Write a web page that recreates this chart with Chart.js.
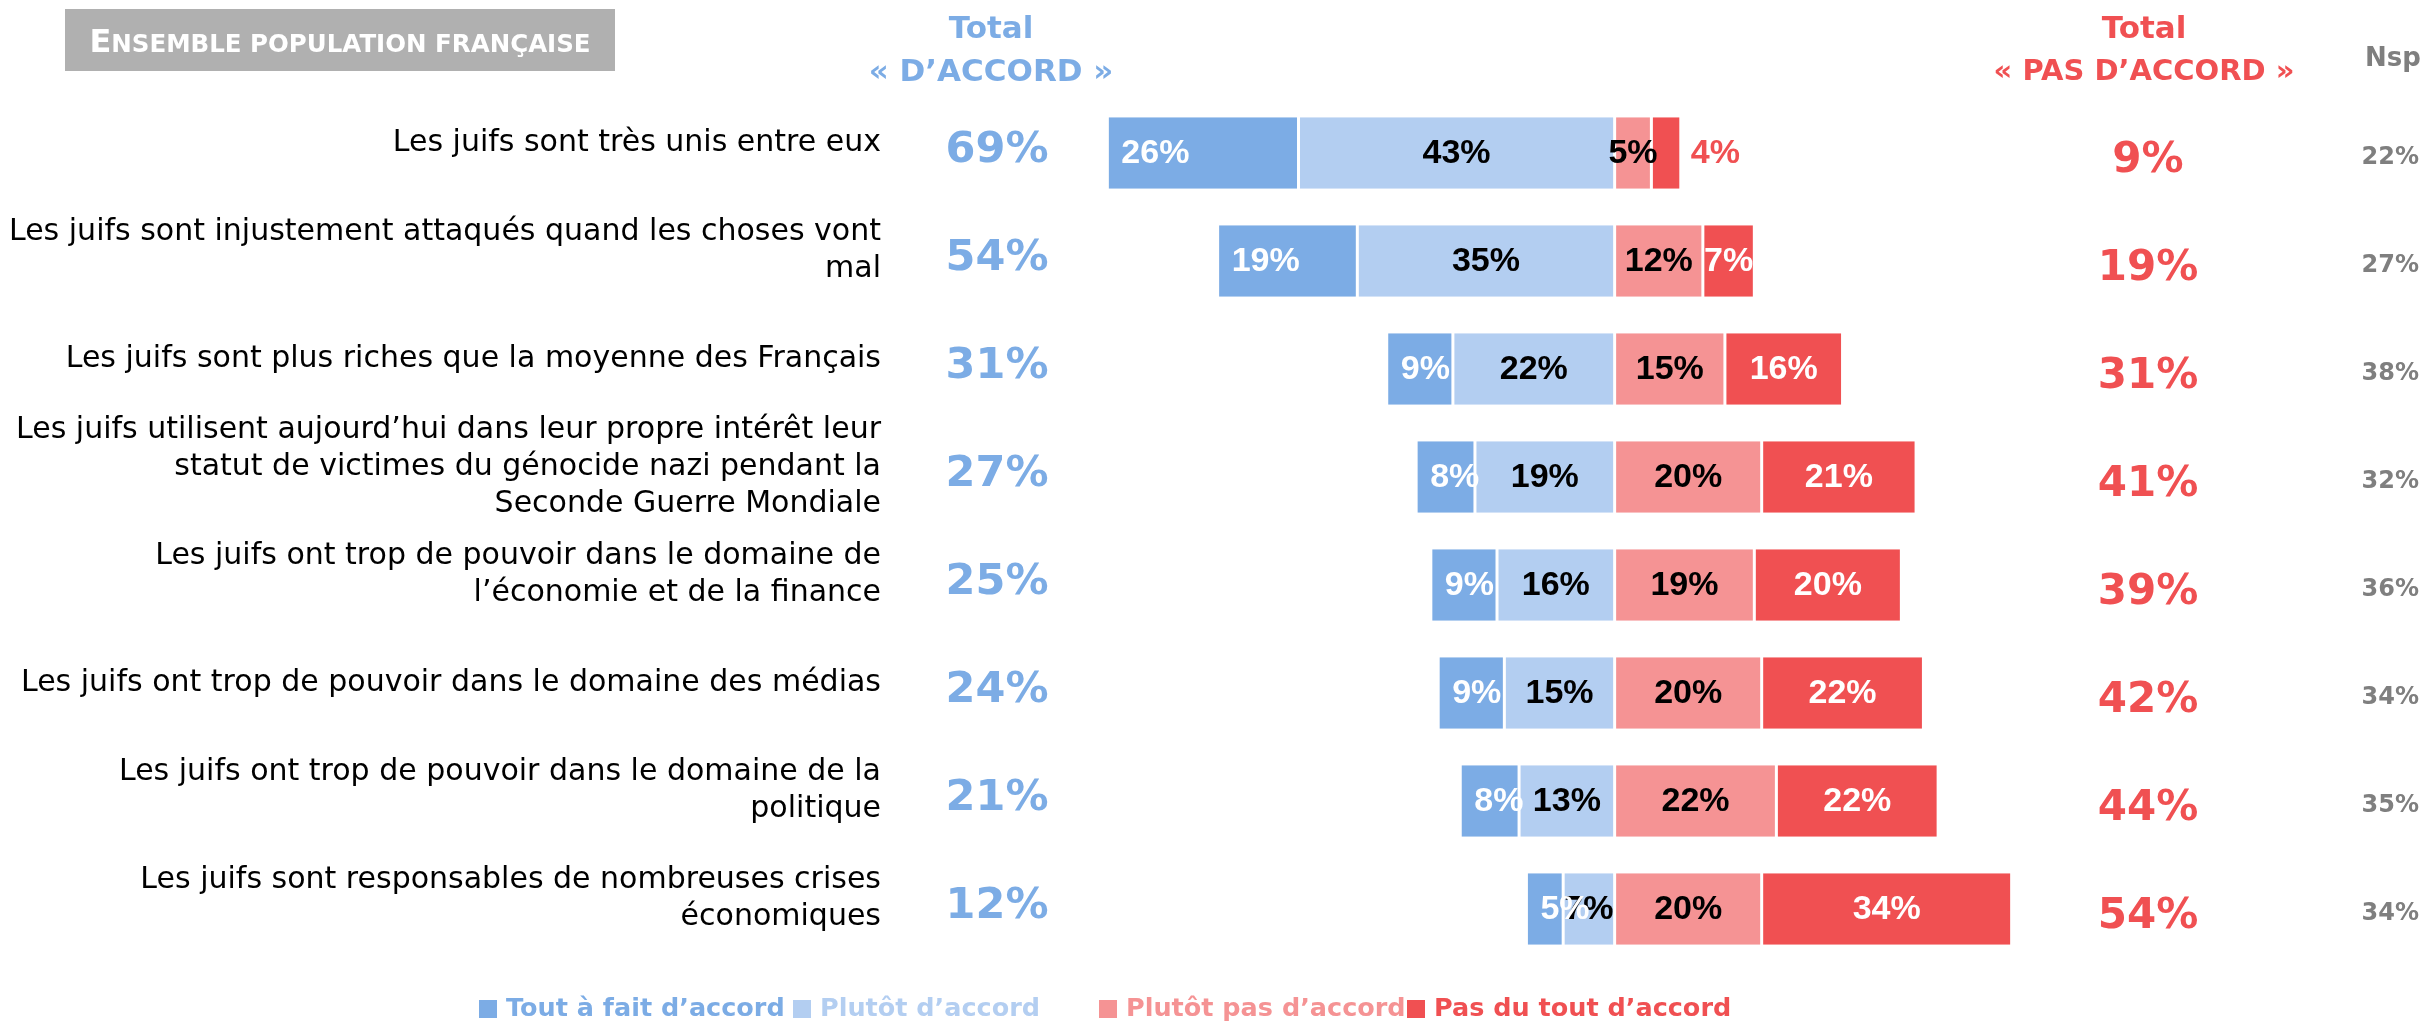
<!DOCTYPE html>
<html lang="fr">
<head>
<meta charset="utf-8">
<title>Ensemble population française</title>
<script src="https://cdn.jsdelivr.net/npm/chart.js@4"></script>
<style>
    html, body { margin: 0; padding: 0; background: #fff; }
    #wrap { width: 2424px; height: 1023px; }
</style>
</head>
<body>
<div id="wrap"><canvas id="chart" width="2424" height="1023"></canvas></div>
<script>
const categories = [
    ['Les juifs sont très unis entre eux'],
    ['Les juifs sont injustement attaqués quand les choses vont', 'mal'],
    ['Les juifs sont plus riches que la moyenne des Français'],
    ['Les juifs utilisent aujourd’hui dans leur propre intérêt leur', 'statut de victimes du génocide nazi pendant la', 'Seconde Guerre Mondiale'],
    ['Les juifs ont trop de pouvoir dans le domaine de', 'l’économie et de la finance'],
    ['Les juifs ont trop de pouvoir dans le domaine des médias'],
    ['Les juifs ont trop de pouvoir dans le domaine de la', 'politique'],
    ['Les juifs sont responsables de nombreuses crises', 'économiques'],
];
const toutAFait = [26, 19, 9, 8, 9, 9, 8, 5];
const plutot = [43, 35, 22, 19, 16, 15, 13, 7];
const plutotPas = [5, 12, 15, 20, 19, 20, 22, 20];
const pasDuTout = [4, 7, 16, 21, 20, 22, 22, 34];
const totalAccord = [69, 54, 31, 27, 25, 24, 21, 12];
const totalPasAccord = [9, 19, 31, 41, 39, 42, 44, 54];
const nsp = [22, 27, 38, 32, 36, 34, 35, 34];

const BLUE = '#7cace5';
const LIGHT_BLUE = '#b3cef1';
const LIGHT_RED = '#f59394';
const RED = '#f05052';
const GREY = '#7f7f7f';
const GOTHIC = '"DejaVu Sans", sans-serif';
const NARROW = '"Liberation Sans Narrow", "Liberation Sans", sans-serif';

const rows = categories.map((c, i) => i);

// label colour per dataset (order of the datasets below)
const labelColors = ['#000', '#fff', '#000', '#fff'];

const texts = {
    id: 'texts',
    afterDatasetsDraw(chart) {
        const ctx = chart.ctx;
        ctx.save();
        ctx.textBaseline = 'middle';
        ctx.font = `bold 34px ${NARROW}`;
        chart.data.datasets.forEach((ds, di) => {
            const meta = chart.getDatasetMeta(di);
            meta.data.forEach((bar, i) => {
                const v = Math.abs(ds.data[i]);
                const left = Math.min(bar.x, bar.base);
                const right = Math.max(bar.x, bar.base);
                const label = v + '%';
                if (di === 1) {
                    ctx.textAlign = 'left';
                    ctx.fillStyle = labelColors[di];
                    ctx.fillText(label, left + 14, bar.y + 1);
                } else if (di === 3 && v < 5) {
                    ctx.textAlign = 'left';
                    ctx.fillStyle = RED;
                    ctx.fillText(label, right + 10, bar.y + 1);
                } else {
                    ctx.textAlign = 'center';
                    ctx.fillStyle = labelColors[di];
                    ctx.fillText(label, (left + right) / 2, bar.y + 1);
                }
            });
        });
        ctx.restore();
    },
    afterDraw(chart) {
        const ctx = chart.ctx;
        const y = chart.scales.y;
        ctx.save();

        // title box
        ctx.fillStyle = '#b0b0b0';
        ctx.fillRect(65, 9, 550, 62);
        ctx.fillStyle = '#fff';
        ctx.textBaseline = 'alphabetic';
        ctx.font = `bold 32px ${GOTHIC}`;
        const w1 = ctx.measureText('E').width;
        ctx.font = `bold 24.5px ${GOTHIC}`;
        const rest = 'NSEMBLE POPULATION FRANÇAISE';
        const w2 = ctx.measureText(rest).width;
        const x0 = 340 - (w1 + w2) / 2;
        ctx.textAlign = 'left';
        ctx.font = `bold 32px ${GOTHIC}`;
        ctx.fillText('E', x0, 52);
        ctx.font = `bold 24.5px ${GOTHIC}`;
        ctx.fillText(rest, x0 + w1, 52);

        // column headers
        ctx.textBaseline = 'middle';
        ctx.textAlign = 'center';
        ctx.font = `bold 31px ${GOTHIC}`;
        ctx.fillStyle = BLUE;
        ctx.fillText('Total', 991, 30);
        ctx.fillText('« D’ACCORD »', 991, 73);
        ctx.fillStyle = RED;
        ctx.fillText('Total', 2144, 30);
        ctx.font = `bold 29px ${GOTHIC}`;
        ctx.fillText('« PAS D’ACCORD »', 2144, 72);
        ctx.fillStyle = GREY;
        ctx.font = `bold 26px ${GOTHIC}`;
        ctx.fillText('Nsp', 2393, 59);

        rows.forEach((i) => {
            const cy = y.getPixelForValue(i);
            // category text
            const lines = categories[i];
            ctx.textAlign = 'right';
            ctx.fillStyle = '#000';
            ctx.font = `30px ${GOTHIC}`;
            const lh = 37;
            lines.forEach((line, k) => {
                ctx.fillText(line, 881, cy - 10 + (k - (lines.length - 1) / 2) * lh);
            });
            // totals
            ctx.textAlign = 'center';
            ctx.font = `bold 43px ${GOTHIC}`;
            ctx.fillStyle = BLUE;
            ctx.fillText(totalAccord[i] + '%', 997, cy - 2);
            ctx.fillStyle = RED;
            ctx.font = `bold 42px ${GOTHIC}`;
            ctx.fillText(totalPasAccord[i] + '%', 2148, cy + 8);
            ctx.textAlign = 'right';
            ctx.font = `bold 24px ${GOTHIC}`;
            ctx.fillStyle = GREY;
            ctx.fillText(nsp[i] + '%', 2419, cy + 5);
        });

        // legend
        const legend = [
            ['Tout à fait d’accord', BLUE, 479],
            ['Plutôt d’accord', LIGHT_BLUE, 793],
            ['Plutôt pas d’accord', LIGHT_RED, 1099],
            ['Pas du tout d’accord', RED, 1407],
        ];
        ctx.font = `bold 25.5px ${GOTHIC}`;
        ctx.textAlign = 'left';
        legend.forEach(([text, color, lx]) => {
            ctx.fillStyle = color;
            ctx.fillRect(lx, 1000, 18, 18);
            ctx.fillText(text, lx + 27, 1009);
        });

        ctx.restore();
    },
};

new Chart(document.getElementById('chart'), {
    type: 'bar',
    data: {
        labels: rows,
        datasets: [
            { label: 'Plutôt d’accord', data: plutot.map((v) => -v), backgroundColor: LIGHT_BLUE },
            { label: 'Tout à fait d’accord', data: toutAFait.map((v) => -v), backgroundColor: BLUE },
            { label: 'Plutôt pas d’accord', data: plutotPas, backgroundColor: LIGHT_RED },
            { label: 'Pas du tout d’accord', data: pasDuTout, backgroundColor: RED },
        ],
    },
    options: {
        indexAxis: 'y',
        responsive: false,
        animation: false,
        layout: {
            padding: { left: 1100, right: 405, top: 99, bottom: 60 },
        },
        datasets: {
            bar: {
                barPercentage: 0.66,
                categoryPercentage: 1,
                borderColor: '#fff',
                borderWidth: { left: 1.5, right: 1.5, top: 0, bottom: 0 },
                borderSkipped: false,
            },
        },
        scales: {
            x: { stacked: true, min: -70, max: 55, display: false },
            y: { stacked: true, display: false },
        },
        plugins: {
            legend: { display: false },
            tooltip: { enabled: false },
        },
    },
    plugins: [texts],
});
</script>
</body>
</html>
